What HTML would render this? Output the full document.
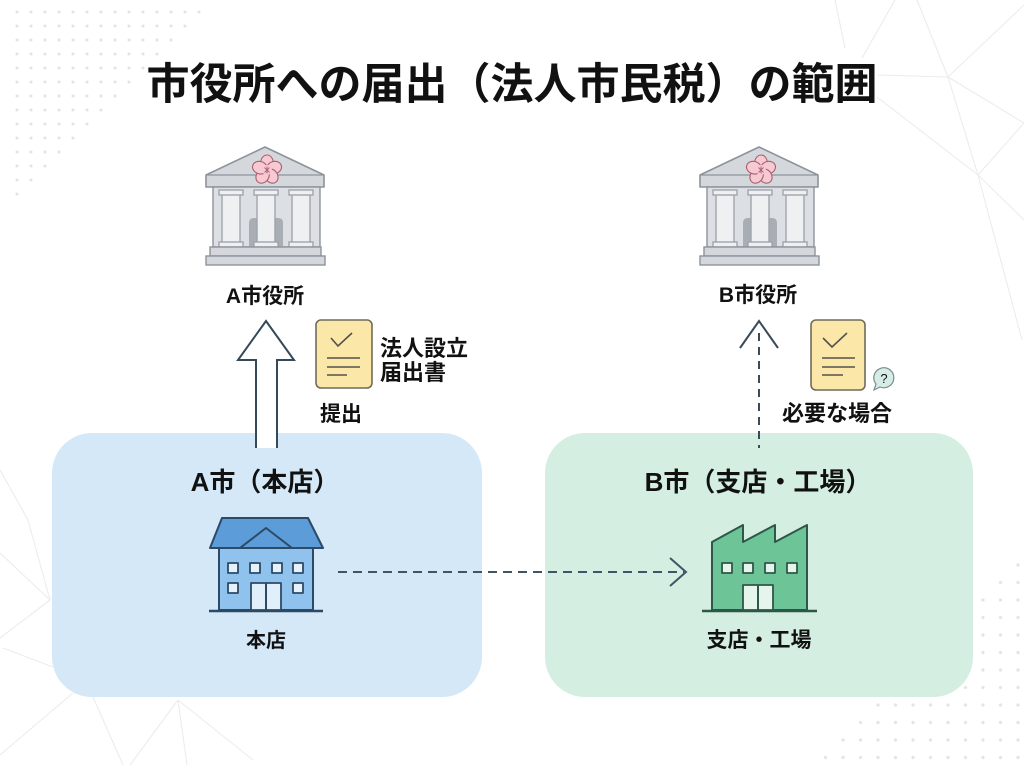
<!DOCTYPE html>
<html><head><meta charset="utf-8">
<style>
html,body{margin:0;padding:0;background:#ffffff;}
svg{display:block;}
text{font-family:"Liberation Sans","Noto Sans CJK JP",sans-serif;fill:#111;}
</style></head>
<body>
<svg width="1024" height="765" viewBox="0 0 1024 765" xmlns="http://www.w3.org/2000/svg">
<defs>
  <pattern id="dotsTL" patternUnits="userSpaceOnUse" x="10" y="5" width="14" height="14">
    <circle cx="7" cy="7" r="1.5" fill="#e3e3e3"/>
  </pattern>
  <pattern id="dotsBR" patternUnits="userSpaceOnUse" x="1009.25" y="556.25" width="17.5" height="17.5">
    <circle cx="8.75" cy="8.75" r="1.6" fill="#e3e3e3"/>
  </pattern>
  <g id="civic">
    <!-- pediment -->
    <polygon points="0,0 -59,28 -59,40 59,40 59,28" fill="#d4d7dc" stroke="#8d939b" stroke-width="1.6" stroke-linejoin="round"/>
    <line x1="-59" y1="28" x2="59" y2="28" stroke="#8d939b" stroke-width="1.2"/>
    <!-- body -->
    <rect x="-52" y="40" width="107" height="60" fill="#dcdfe3" stroke="#8d939b" stroke-width="1.4"/>
    <!-- door -->
    <path d="M-16,100 V76 Q-16,71 -11,71 H13 Q18,71 18,76 V100 Z" fill="#a9aeb5"/>
    <!-- columns -->
    <g fill="#eef0f2" stroke="#9ba1a9" stroke-width="1.3">
      <rect x="-43" y="46" width="18" height="54"/>
      <rect x="-8" y="46" width="18" height="54"/>
      <rect x="27" y="46" width="18" height="54"/>
      <rect x="-46" y="43" width="24" height="5"/>
      <rect x="-11" y="43" width="24" height="5"/>
      <rect x="24" y="43" width="24" height="5"/>
      <rect x="-46" y="95" width="24" height="5"/>
      <rect x="-11" y="95" width="24" height="5"/>
      <rect x="24" y="95" width="24" height="5"/>
    </g>
    <!-- steps -->
    <rect x="-55" y="100" width="111" height="9" fill="#d4d7dc" stroke="#8d939b" stroke-width="1.4"/>
    <rect x="-59" y="109" width="119" height="9" fill="#d4d7dc" stroke="#8d939b" stroke-width="1.4"/>
    <!-- blossom -->
    <g transform="translate(2,23)" fill="#f7c9d2" stroke="#a8606e" stroke-width="1.1">
      <ellipse cx="0" cy="-7.5" rx="6.2" ry="7.5"/>
      <ellipse cx="0" cy="-7.5" rx="6.2" ry="7.5" transform="rotate(72)"/>
      <ellipse cx="0" cy="-7.5" rx="6.2" ry="7.5" transform="rotate(144)"/>
      <ellipse cx="0" cy="-7.5" rx="6.2" ry="7.5" transform="rotate(216)"/>
      <ellipse cx="0" cy="-7.5" rx="6.2" ry="7.5" transform="rotate(288)"/>
      <circle cx="0" cy="0" r="5" stroke="none"/>
      <path d="M-2.5,-2.5 L2.5,2.5 M2.5,-2.5 L-2.5,2.5 M0,-3.5 V3.5" stroke="#a8606e" stroke-width="0.9"/>
    </g>
  </g>
</defs>

<!-- background -->
<rect x="0" y="0" width="1024" height="765" fill="#ffffff"/>
<polygon points="5,5 215,5 5,215" fill="url(#dotsTL)"/>
<polygon points="1024,555 1024,765 814,765" fill="url(#dotsBR)"/>

<g stroke="#ececee" stroke-width="1.1" fill="none">
  <line x1="917" y1="0" x2="948" y2="77"/>
  <line x1="1024" y1="5" x2="948" y2="77"/>
  <line x1="877" y1="75" x2="948" y2="77"/>
  <line x1="948" y1="77" x2="1024" y2="123"/>
  <line x1="948" y1="77" x2="978" y2="175"/>
  <line x1="877" y1="97" x2="978" y2="175"/>
  <line x1="978" y1="175" x2="1024" y2="123"/>
  <line x1="978" y1="175" x2="1024" y2="220"/>
  <line x1="978" y1="175" x2="1022" y2="340"/>
  <line x1="835" y1="0" x2="845" y2="48"/>
  <line x1="895" y1="0" x2="862" y2="58"/>
  <line x1="0" y1="470" x2="28" y2="520"/>
  <line x1="28" y1="520" x2="50" y2="600"/>
  <line x1="0" y1="553" x2="50" y2="600"/>
  <line x1="50" y1="600" x2="0" y2="638"/>
  <line x1="3" y1="648" x2="53" y2="667"/>
  <line x1="73" y1="693" x2="0" y2="755"/>
  <line x1="93" y1="697" x2="123" y2="765"/>
  <line x1="178" y1="700" x2="130" y2="765"/>
  <line x1="178" y1="700" x2="187" y2="765"/>
  <line x1="178" y1="700" x2="253" y2="760"/>
</g>

<!-- title -->
<text x="512" y="99" font-size="43" font-weight="700" text-anchor="middle" fill="#0d0d0d">市役所への届出（法人市民税）の範囲</text>

<!-- city boxes -->
<rect x="52" y="433" width="430" height="264" rx="40" fill="#d4e8f7"/>
<rect x="545" y="433" width="428" height="264" rx="40" fill="#d4eee1"/>

<!-- civic buildings -->
<use href="#civic" transform="translate(265,147)"/>
<use href="#civic" transform="translate(759,147)"/>
<text x="265" y="303" font-size="21" font-weight="700" text-anchor="middle">A市役所</text>
<text x="758" y="302" font-size="21" font-weight="700" text-anchor="middle">B市役所</text>

<!-- hollow arrow A -->
<polygon points="266,321 294,360 277,360 277,448 256,448 256,360 238,360" fill="#ffffff" stroke="none"/>
<polyline points="256,448 256,360 238,360 266,321 294,360 277,360 277,448" fill="none" stroke="#34495a" stroke-width="2" stroke-linejoin="miter"/>

<!-- doc A -->
<rect x="316" y="320" width="56" height="68" rx="5" fill="#fbe7a8" stroke="#6f6b5c" stroke-width="1.6"/>
<polyline points="331,338 338,346 352,333" fill="none" stroke="#55524a" stroke-width="1.6"/>
<g stroke="#55524a" stroke-width="1.6">
  <line x1="327" y1="358" x2="360" y2="358"/>
  <line x1="327" y1="367" x2="360" y2="367"/>
  <line x1="327" y1="375" x2="347" y2="375"/>
</g>
<text x="380" y="356" font-size="22" font-weight="700">法人設立</text>
<text x="380" y="380" font-size="22" font-weight="700">届出書</text>
<text x="341" y="421" font-size="21" font-weight="700" text-anchor="middle">提出</text>

<!-- dashed arrow B up -->
<line x1="759" y1="333" x2="759" y2="448" stroke="#3a4a58" stroke-width="2" stroke-dasharray="8 6"/>
<polyline points="740,348 759,321 778,348" fill="none" stroke="#3a4a58" stroke-width="2"/>

<!-- doc B -->
<rect x="811" y="320" width="54" height="70" rx="5" fill="#fbe7a8" stroke="#6f6b5c" stroke-width="1.6"/>
<polyline points="823,338 832,347 847,333" fill="none" stroke="#55524a" stroke-width="1.6"/>
<g stroke="#55524a" stroke-width="1.6">
  <line x1="822" y1="358" x2="855" y2="358"/>
  <line x1="822" y1="367" x2="855" y2="367"/>
  <line x1="822" y1="375" x2="843" y2="375"/>
</g>
<path d="M876,384 A10,10 0 1 1 880,387 L874,390 Z" fill="#d6ede7" stroke="#7b8b89" stroke-width="1.2"/>
<text x="884" y="383" font-size="13" text-anchor="middle" fill="#5a6a6a">?</text>
<text x="837" y="421" font-size="22" font-weight="700" text-anchor="middle">必要な場合</text>

<!-- box titles -->
<text x="265" y="491" font-size="26" font-weight="700" text-anchor="middle">A市（本店）</text>
<text x="758" y="491" font-size="26" font-weight="700" text-anchor="middle">B市（支店・工場）</text>

<!-- house -->
<g stroke="#2c4a66" stroke-width="2" stroke-linejoin="round">
  <polygon points="222,518 308,518 323,548 210,548" fill="#5b9cd9"/>
  <polyline points="240,548 266,528 292,548" fill="none"/>
  <rect x="219" y="548" width="94" height="62" fill="#8fc2ed"/>
  <g fill="#e6f2fb" stroke-width="1.8">
    <rect x="228" y="563" width="10" height="10"/>
    <rect x="250" y="563" width="10" height="10"/>
    <rect x="272" y="563" width="10" height="10"/>
    <rect x="293" y="563" width="10" height="10"/>
    <rect x="228" y="583" width="10" height="10"/>
    <rect x="293" y="583" width="10" height="10"/>
    <rect x="251" y="583" width="30" height="27" fill="#e0effa"/>
  </g>
  <line x1="266" y1="583" x2="266" y2="610"/>
  <line x1="209" y1="611" x2="323" y2="611" stroke-width="2.5"/>
</g>
<text x="266" y="647" font-size="20" font-weight="700" text-anchor="middle">本店</text>

<!-- horizontal dashed arrow -->
<line x1="338" y1="572" x2="684" y2="572" stroke="#3d5566" stroke-width="2" stroke-dasharray="9 6"/>
<polyline points="670,558 686,572 670,586" fill="none" stroke="#3d5566" stroke-width="2"/>

<!-- factory -->
<g stroke="#2d5748" stroke-width="2" stroke-linejoin="round">
  <polygon points="712,610 712,542 743,525 743,542 775,525 775,542 807,525 807,610" fill="#6dc497"/>
  <g fill="#e5f5ec" stroke-width="1.8">
    <rect x="722" y="563" width="10" height="10"/>
    <rect x="743" y="563" width="10" height="10"/>
    <rect x="765" y="563" width="10" height="10"/>
    <rect x="787" y="563" width="10" height="10"/>
    <rect x="743" y="585" width="30" height="25"/>
  </g>
  <line x1="758" y1="585" x2="758" y2="610"/>
  <line x1="702" y1="611" x2="817" y2="611" stroke-width="2.5"/>
</g>
<text x="759" y="647" font-size="21" font-weight="700" text-anchor="middle">支店・工場</text>
</svg>
</body></html>
